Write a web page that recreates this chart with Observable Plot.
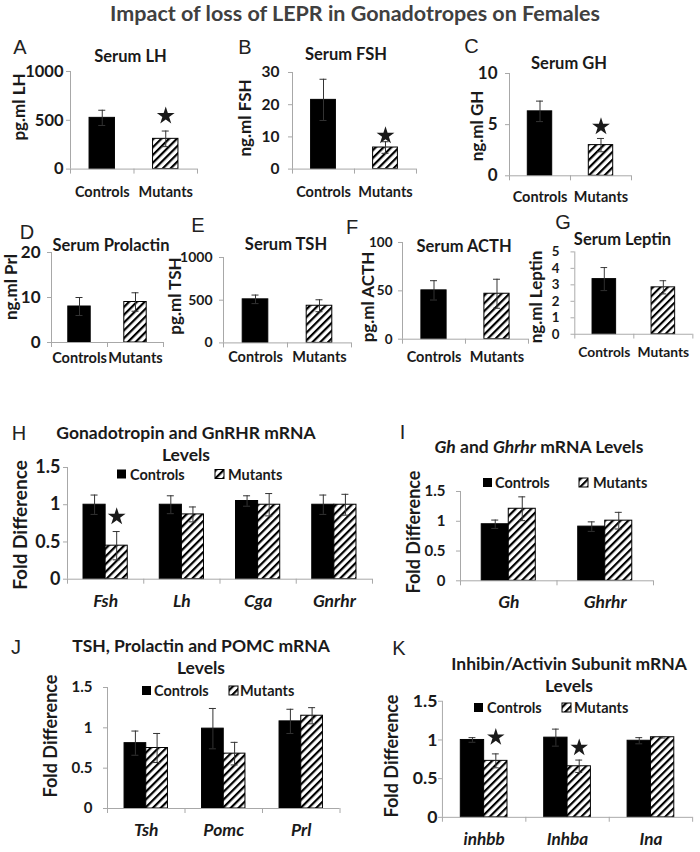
<!DOCTYPE html>
<html><head><meta charset="utf-8">
<script src="https://cdn.jsdelivr.net/npm/d3@7"></script>
<script src="https://cdn.jsdelivr.net/npm/@observablehq/plot@0.6"></script>
<style>
body{margin:0;background:#fff;}
#fig{position:relative;width:700px;height:852px;overflow:hidden;background:#fff;}
.panel{position:absolute;}
</style></head>
<body><div id="fig"></div>
<script>
// ---------------- DATA ----------------
const serumCategories = ["Controls", "Mutants"];
const lhMean = [525, 310], lhErr = [78, 80], lhStars = [null, 546];
const fshMean = [21.5, 6.7], fshErr = [6.4, 1.8], fshStars = [null, 10.4];
const ghMean = [6.3, 3.0], ghErr = [1.0, 0.65], ghStars = [null, 4.8];
const prlMean = [8.0, 9.0], prlErr = [2.0, 2.05];
const tshMean = [510, 435], tshErr = [50, 70];
const acthMean = [50.5, 47], acthErr = [10, 15];
const leptinMean = [3.35, 2.85], leptinErr = [0.7, 0.4];

const lhTicks = [0, 500, 1000];
const fshTicks = [0, 10, 20, 30];
const ghTicks = [0, 5, 10];
const prlTicks = [0, 10, 20];
const tshTicks = [0, 500, 1000];
const acthTicks = [0, 50, 100];
const leptinTicks = [0, 1, 2, 3, 4, 5];
const foldTicks = [0, 0.5, 1, 1.5];

const seriesNames = ["Controls", "Mutants"];
const gonadoGenes = ["Fsh", "Lh", "Cga", "Gnrhr"];
const gonadoCtrl = [1.0, 1.0, 1.05, 1.0], gonadoCtrlErr = [0.13, 0.12, 0.07, 0.13];
const gonadoMut = [0.45, 0.87, 1.0, 1.0], gonadoMutErr = [0.19, 0.1, 0.15, 0.14];
const gonadoStars = [0.84, null, null, null];

const ghGenes = ["Gh", "Ghrhr"];
const ghCtrl = [0.95, 0.91], ghCtrlErr = [0.07, 0.08];
const ghMut = [1.21, 1.01], ghMutErr = [0.2, 0.14];

const tpGenes = ["Tsh", "Pomc", "Prl"];
const tpCtrl = [0.81, 0.99, 1.08], tpCtrlErr = [0.15, 0.25, 0.15];
const tpMut = [0.75, 0.68, 1.15], tpMutErr = [0.18, 0.14, 0.1];

const inhGenes = ["inhbb", "Inhba", "Ina"];
const inhCtrl = [1.0, 1.03, 0.99], inhCtrlErr = [0.03, 0.11, 0.04];
const inhMut = [0.73, 0.66, 1.035], inhMutErr = [0.09, 0.08, 0.01];
const inhStars = [1.035, 0.9, null];

// ---------------- STYLE ----------------
const FONT = "Lato, 'Open Sans', sans-serif";
const AXIS = "#a8a8a8";
const INK = "#1a1a1a";
const ERR = "#333333";

const fig = d3.select("#fig");

// pattern defs (shared by all inline SVGs)
const defsSvg = fig.append("svg").attr("width", 0).attr("height", 0).style("position", "absolute");
const pat = defsSvg.append("defs").append("pattern")
  .attr("id", "hatch").attr("patternUnits", "userSpaceOnUse")
  .attr("width", 5.5).attr("height", 5.5).attr("patternTransform", "rotate(45)");
pat.append("rect").attr("width", 5.5).attr("height", 5.5).attr("fill", "white");
pat.append("rect").attr("width", 2.2).attr("height", 5.5).attr("fill", "black");

function place(svg, left, top) {
  const div = fig.append("div").attr("class", "panel").style("left", left + "px").style("top", top + "px");
  div.node().appendChild(svg);
}

// ---------------- SERUM PANELS ----------------
function serumPlot(p) {
  const n = serumCategories.length;
  const W = p.x1 - p.x0, H = p.yBot - p.yTop;
  const mL = 56, mR = 8, mT = 12, mB = 40;
  const fs = 14.5;
  const rows = serumCategories.map((c, i) => ({cat: c, i, mean: p.mean[i], err: p.err[i], star: p.stars ? p.stars[i] : null}));
  const bw = 0.4, cap = 3.5 / (W / n);
  const cx = d => d.i + 0.5;
  const chart = Plot.plot({
    width: W + mL + mR, height: H + mT + mB,
    marginLeft: mL, marginRight: mR, marginTop: mT, marginBottom: mB,
    style: {background: "transparent", fontFamily: FONT, fontWeight: "bold", color: INK, overflow: "visible", fontSize: "15px"},
    x: {type: "linear", domain: [0, n]},
    y: {domain: [0, d3.max(p.ticks)]},
    marks: [
      Plot.rectY(rows, {x1: d => cx(d) - bw / 2, x2: d => cx(d) + bw / 2, y: "mean",
        fill: d => d.i === 0 ? "black" : "url(#hatch)", stroke: "black", strokeWidth: 1}),
      Plot.ruleX(rows, {x: cx, y1: d => d.mean - d.err, y2: d => d.mean + d.err, stroke: ERR}),
      Plot.ruleY(rows, {y: d => d.mean + d.err, x1: d => cx(d) - cap, x2: d => cx(d) + cap, stroke: ERR}),
      Plot.ruleY(rows, {y: d => d.mean - d.err, x1: d => cx(d) - cap, x2: d => cx(d) + cap, stroke: ERR}),
      Plot.dot(rows.filter(d => d.star != null), {x: cx, y: "star", symbol: "star", fill: INK, stroke: "none", r: 5.6}),
      Plot.ruleX([0], {stroke: AXIS}),
      Plot.ruleY([0], {stroke: AXIS}),
      Plot.axisY({ticks: p.ticks, tickSize: 4, tickPadding: p.gap - 4, stroke: AXIS, fill: INK, fontSize: p.tfs, tickFormat: d => String(d), label: null}),
      Plot.axisX({ticks: d3.range(n + 1), tickSize: 5, tickFormat: () => "", stroke: AXIS, label: null}),
      Plot.axisX({ticks: rows.map(cx), tickSize: 0, tickPadding: p.labelY - p.yBot - 0.36 * fs,
        tickFormat: v => serumCategories[Math.floor(v)], fill: INK, fontSize: fs, label: null})
    ]
  });
  place(chart, p.x0 - mL, p.yTop - mT);
}

const serumPanels = [
  {letter: "A", title: "Serum LH", ylabel: "pg.ml LH", mean: lhMean, err: lhErr, stars: lhStars, ticks: lhTicks, tfs: 16.5, gap: 7,
   x0: 70, x1: 197, yTop: 70.7, yBot: 168.3, labelY: 191.5, tx: 130.5, ty: 56, lx: 20, ly: 46.5, yx: 18, yy: 107},
  {letter: "B", title: "Serum FSH", ylabel: "ng.ml FSH", mean: fshMean, err: fshErr, stars: fshStars, ticks: fshTicks, tfs: 15.5, gap: 13,
   x0: 292, x1: 416, yTop: 71.7, yBot: 168.3, labelY: 191, tx: 346, ty: 54, lx: 245, ly: 47, yx: 244, yy: 118},
  {letter: "C", title: "Serum GH", ylabel: "ng.ml GH", mean: ghMean, err: ghErr, stars: ghStars, ticks: ghTicks, tfs: 17, gap: 12,
   x0: 509, x1: 631, yTop: 72.7, yBot: 175, labelY: 196, tx: 569, ty: 63, lx: 471.5, ly: 45.5, yx: 476, yy: 126},
  {letter: "D", title: "Serum Prolactin", ylabel: "ng.ml Prl", mean: prlMean, err: prlErr, ticks: prlTicks, tfs: 17, gap: 11,
   x0: 51, x1: 163, yTop: 251.7, yBot: 341.7, labelY: 357, tx: 111, ty: 245, lx: 27, ly: 231.5, yx: 10, yy: 287},
  {letter: "E", title: "Serum TSH", ylabel: "pg.ml TSH", mean: tshMean, err: tshErr, ticks: tshTicks, tfs: 14, gap: 11,
   x0: 223, x1: 351, yTop: 257.3, yBot: 342.7, labelY: 357, tx: 286, ty: 244, lx: 198, ly: 224.5, yx: 174, yy: 296},
  {letter: "F", title: "Serum ACTH", ylabel: "pg.ml ACTH", mean: acthMean, err: acthErr, ticks: acthTicks, tfs: 13.5, gap: 10,
   x0: 402, x1: 528, yTop: 242.3, yBot: 339, labelY: 357, tx: 464, ty: 246, lx: 352, ly: 226.5, yx: 367, yy: 297},
  {letter: "G", title: "Serum Leptin", ylabel: "ng.ml Leptin", mean: leptinMean, err: leptinErr, ticks: leptinTicks, tfs: 14, gap: 16,
   x0: 577, x1: 701, yTop: 252, yBot: 338.5, labelY: 357, tx: 622.5, ty: 239, lx: 563, ly: 221.5, yx: 535, yy: 297}
];
serumPanels.forEach(serumPlot);

// ---------------- GROUPED PANELS ----------------
function groupedPlot(p) {
  const n = p.genes.length;
  const W = p.x1 - p.x0, H = p.yBot - p.yTop;
  const mL = 56, mR = 8, mT = 12, mB = 44;
  const fs = 17.5;
  const rows = [];
  p.genes.forEach((g, i) => {
    rows.push({gene: g, i, k: 0, mean: p.ctrl[i], err: p.ctrlErr[i], star: null});
    rows.push({gene: g, i, k: 1, mean: p.mut[i], err: p.mutErr[i], star: p.stars ? p.stars[i] : null});
  });
  const bw = p.bw, cap = 3.5 / (W / n);
  const cx = d => d.i + 0.5 + (d.k === 0 ? -bw / 2 : bw / 2);
  const chart = Plot.plot({
    width: W + mL + mR, height: H + mT + mB,
    marginLeft: mL, marginRight: mR, marginTop: mT, marginBottom: mB,
    style: {background: "transparent", fontFamily: FONT, fontWeight: "bold", color: INK, overflow: "visible", fontSize: "16px"},
    x: {type: "linear", domain: [0, n]},
    y: {domain: [0, d3.max(foldTicks)]},
    marks: [
      Plot.rectY(rows, {x1: d => cx(d) - bw / 2, x2: d => cx(d) + bw / 2, y: "mean",
        fill: d => d.k === 0 ? "black" : "url(#hatch)", stroke: "black", strokeWidth: 1}),
      Plot.ruleX(rows, {x: cx, y1: d => d.mean - d.err, y2: d => d.mean + d.err, stroke: ERR}),
      Plot.ruleY(rows, {y: d => d.mean + d.err, x1: d => cx(d) - cap, x2: d => cx(d) + cap, stroke: ERR}),
      Plot.ruleY(rows, {y: d => d.mean - d.err, x1: d => cx(d) - cap, x2: d => cx(d) + cap, stroke: ERR}),
      Plot.dot(rows.filter(d => d.star != null), {x: cx, y: "star", symbol: "star", fill: INK, stroke: "none", r: 5.6}),
      Plot.ruleX([0], {stroke: AXIS}),
      Plot.ruleY([0], {stroke: AXIS}),
      Plot.axisY({ticks: foldTicks, tickSize: 4, tickPadding: p.gap - 4, stroke: AXIS, fill: INK, fontSize: p.tfs, tickFormat: d => String(d), label: null}),
      Plot.axisX({ticks: d3.range(n + 1), tickSize: 5, tickFormat: () => "", stroke: AXIS, label: null}),
      Plot.axisX({ticks: p.genes.map((g, i) => i + 0.5), tickSize: 0, tickPadding: p.labelY - p.yBot - 0.36 * fs,
        tickFormat: v => p.genes[Math.floor(v)], fill: INK, fontSize: fs, fontStyle: "italic", label: null})
    ]
  });
  place(chart, p.x0 - mL, p.yTop - mT);
}

const groupedPanels = [
  {letter: "H", title: [[["Gonadotropin and GnRHR mRNA", false]], [["Levels", false]]], genes: gonadoGenes,
   ctrl: gonadoCtrl, ctrlErr: gonadoCtrlErr, mut: gonadoMut, mutErr: gonadoMutErr, stars: gonadoStars, tfs: 18, gap: 7, yfs: 19,
   x0: 67, x1: 372, yTop: 467.3, yBot: 579, labelY: 601, bw: 0.29,
   tx: 186, ty: [432, 454], lx: 19, ly: 432.5, yx: 19, yy: 525, legY: 474, legX: [117, 130, 215, 228]},
  {letter: "I", title: [[["Gh", true], [" and ", false], ["Ghrhr", true], [" mRNA Levels", false]]], genes: ghGenes,
   ctrl: ghCtrl, ctrlErr: ghCtrlErr, mut: ghMut, mutErr: ghMutErr, tfs: 15, gap: 15, yfs: 18,
   x0: 460, x1: 653, yTop: 490.7, yBot: 580, labelY: 601, bw: 0.28,
   tx: 539, ty: [446], lx: 402.5, ly: 431.5, yx: 413, yy: 532, legY: 482.5, legX: [483, 495, 579, 593]},
  {letter: "J", title: [[["TSH, Prolactin and POMC mRNA", false]], [["Levels", false]]], genes: tpGenes,
   ctrl: tpCtrl, ctrlErr: tpCtrlErr, mut: tpMut, mutErr: tpMutErr, tfs: 15, gap: 15, yfs: 18,
   x0: 107, x1: 339.5, yTop: 686.7, yBot: 807.7, labelY: 829, bw: 0.28,
   tx: 201, ty: [645, 667], lx: 16, ly: 646.5, yx: 50, yy: 736, legY: 690.5, legX: [142, 154, 229, 240]},
  {letter: "K", title: [[["Inhibin/Activin Subunit mRNA", false]], [["Levels", false]]], genes: inhGenes,
   ctrl: inhCtrl, ctrlErr: inhCtrlErr, mut: inhMut, mutErr: inhMutErr, stars: inhStars, tfs: 18, gap: 5, yfs: 18,
   x0: 443, x1: 698, yTop: 700.7, yBot: 819, labelY: 841.5, bw: 0.28,
   tx: 569, ty: [663, 685], lx: 399, ly: 647.5, yx: 391, yy: 756, legY: 707.5, legX: [474, 487, 562, 574]}
];
groupedPanels.forEach(groupedPlot);

// ---------------- ANNOTATION OVERLAY ----------------
const ov = fig.append("svg").attr("width", 700).attr("height", 852)
  .style("position", "absolute").style("left", "0px").style("top", "0px").style("pointer-events", "none")
  .style("font-family", FONT).style("font-weight", "bold");

ov.append("text").attr("x", 355).attr("y", 13).attr("text-anchor", "middle").attr("dominant-baseline", "central")
  .attr("font-size", 21.5).attr("fill", "#404040").text("Impact of loss of LEPR in Gonadotropes on Females");

function letter(t, x, y) {
  ov.append("text").attr("x", x).attr("y", y).attr("text-anchor", "middle").attr("dominant-baseline", "central")
    .attr("font-family", "'Liberation Sans', Arial, sans-serif").attr("font-weight", "normal")
    .attr("font-size", 20).attr("fill", "#222").text(t);
}
function ylab(t, x, y, fs) {
  ov.append("text").attr("transform", `translate(${x},${y}) rotate(-90)`).attr("text-anchor", "middle")
    .attr("dominant-baseline", "central").attr("font-size", fs).attr("fill", INK).text(t);
}
serumPanels.forEach(p => {
  letter(p.letter, p.lx, p.ly);
  ov.append("text").attr("x", p.tx).attr("y", p.ty).attr("text-anchor", "middle").attr("dominant-baseline", "central")
    .attr("font-size", 16.5).attr("fill", INK).text(p.title);
  ylab(p.ylabel, p.yx, p.yy, 17);
});
groupedPanels.forEach(p => {
  letter(p.letter, p.lx, p.ly);
  p.title.forEach((line, li) => {
    const t = ov.append("text").attr("x", p.tx).attr("y", p.ty[li]).attr("text-anchor", "middle")
      .attr("dominant-baseline", "central").attr("font-size", 17.5).attr("fill", INK);
    line.forEach(([s, it]) => t.append("tspan").attr("font-style", it ? "italic" : "normal").text(s));
  });
  ylab("Fold Difference", p.yx, p.yy, p.yfs);
  // legend
  const [bx, ctx, hx, mtx] = p.legX;
  ov.append("rect").attr("x", bx).attr("y", p.legY - 4.5).attr("width", 9).attr("height", 9).attr("fill", "black");
  ov.append("text").attr("x", ctx).attr("y", p.legY).attr("dominant-baseline", "central").attr("font-size", 14.5)
    .attr("fill", INK).text(seriesNames[0]);
  ov.append("rect").attr("x", hx).attr("y", p.legY - 4.5).attr("width", 9).attr("height", 9)
    .attr("fill", "url(#hatch)").attr("stroke", "black").attr("stroke-width", 1);
  ov.append("text").attr("x", mtx).attr("y", p.legY).attr("dominant-baseline", "central").attr("font-size", 14.5)
    .attr("fill", INK).text(seriesNames[1]);
});
</script>
</body></html>
